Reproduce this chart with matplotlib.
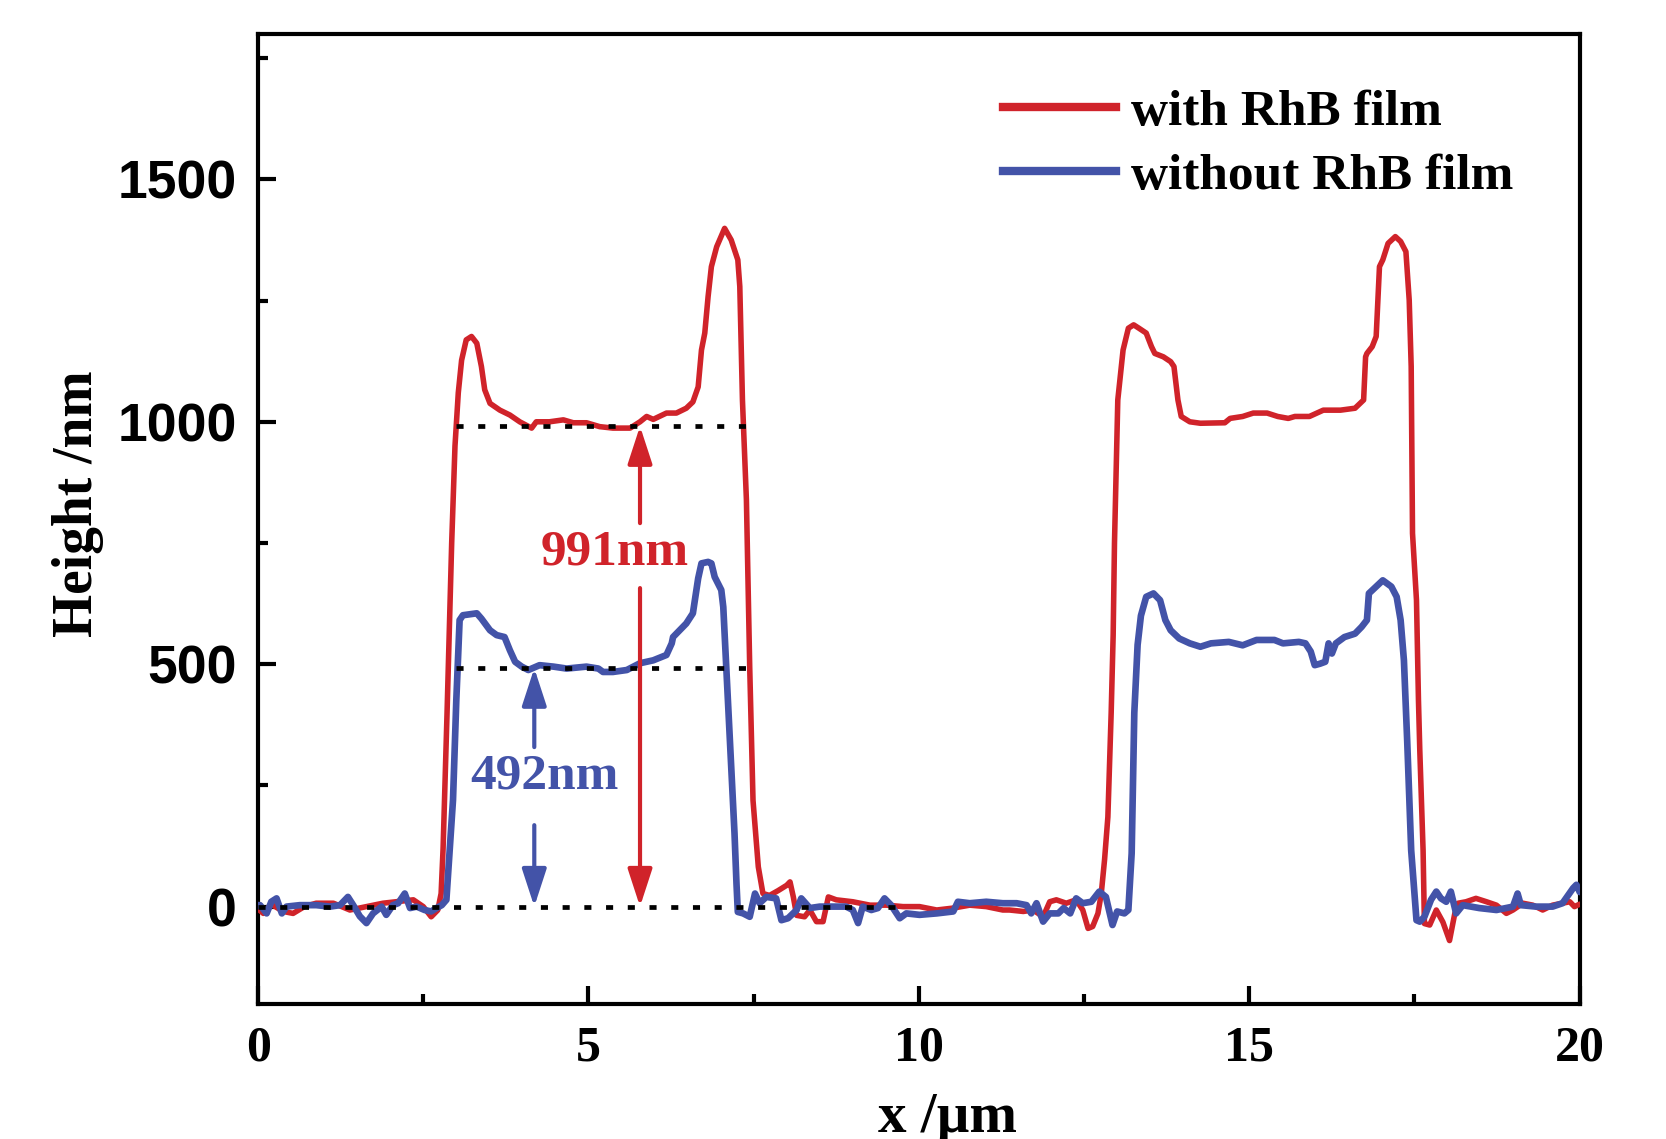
import matplotlib
matplotlib.use("Agg")
import matplotlib.pyplot as plt
from matplotlib.lines import Line2D
from matplotlib.ticker import MultipleLocator

# Height profiles across two stripes (x in µm, height in nm)
x_with = [0.00, 0.08, 0.20, 0.38, 0.53, 0.70, 0.88, 1.14, 1.39, 1.64, 1.89, 2.09, 2.35, 2.50,
          2.62, 2.72, 2.77, 2.80, 2.86, 2.93, 2.98, 3.03, 3.08, 3.15, 3.23, 3.31, 3.38, 3.43,
          3.51, 3.66, 3.81, 3.96, 4.14, 4.21, 4.41, 4.62, 4.77, 4.97, 5.17, 5.37, 5.63, 5.78,
          5.88, 5.98, 6.18, 6.33, 6.48, 6.58, 6.66, 6.71, 6.76, 6.81, 6.86, 6.94, 7.06, 7.16,
          7.26, 7.29, 7.33, 7.39, 7.44, 7.49, 7.57, 7.64, 7.74, 7.87, 8.00, 8.05, 8.10, 8.15,
          8.27, 8.35, 8.45, 8.55, 8.63, 8.75, 9.00, 9.26, 9.51, 9.76, 10.01, 10.27, 10.52,
          10.77, 11.02, 11.27, 11.37, 11.58, 11.73, 11.88, 11.98, 12.08, 12.23, 12.38, 12.48,
          12.56, 12.63, 12.71, 12.76, 12.81, 12.86, 12.91, 12.94, 12.96, 13.01, 13.09, 13.17,
          13.25, 13.33, 13.44, 13.52, 13.57, 13.70, 13.81, 13.86, 13.92, 13.97, 14.10, 14.26,
          14.63, 14.71, 14.90, 15.06, 15.27, 15.43, 15.59, 15.69, 15.91, 16.12, 16.38, 16.60,
          16.73, 16.76, 16.78, 16.86, 16.92, 16.97, 17.02, 17.10, 17.21, 17.29, 17.37, 17.42,
          17.45, 17.47, 17.53, 17.56, 17.58, 17.63, 17.65, 17.73, 17.83, 17.93, 18.03, 18.11,
          18.16, 18.28, 18.43, 18.59, 18.74, 18.89, 18.99, 19.14, 19.29, 19.44, 19.59, 19.74,
          19.85, 19.92, 20.00]
h_with = [-5, -14, 5, -10, -14, 0, 7, 7, -7, 0, 7, 10, 14, 0,
          -21, -7, 27, 120, 400, 750, 950, 1060, 1127, 1169, 1176, 1162, 1114, 1066,
          1038, 1024, 1014, 1000, 987, 1000, 1000, 1004, 998, 998, 990, 987, 987, 1000,
          1011, 1005, 1018, 1018, 1028, 1041, 1072, 1148, 1183, 1258, 1320, 1361, 1399, 1375,
          1334, 1279, 1045, 839, 494, 219, 82, 27, 23, 33, 44, 51, 20, -18,
          -21, -7, -31, -31, 20, 14, 10, 3, 3, 0, 0, -7, -3,
          3, 0, -7, -7, -10, -7, -21, 10, 14, 7, 14, -7,
          -45, -41, -14, 27, 97, 185, 400, 560, 750, 1045, 1148, 1193,
          1200, 1193, 1183, 1155, 1141, 1134, 1124, 1114, 1045, 1011, 1000, 997,
          998, 1007, 1011, 1018, 1018, 1011, 1007, 1011, 1011, 1024, 1024, 1028,
          1045, 1134, 1141, 1155, 1176, 1320, 1334, 1368, 1382, 1372, 1351, 1251,
          1114, 770, 632, 426, 323, 116, -35, -38, -7, -32, -70, -14,
          7, 10, 17, 10, 3, -14, -7, 7, 3, -7, 3, 7,
          10, 0, 5]

x_without = [0.00, 0.03, 0.13, 0.20, 0.28, 0.36, 0.43, 0.63, 0.88, 1.09, 1.24, 1.36, 1.44, 1.54,
             1.64, 1.74, 1.87, 1.94, 2.04, 2.12, 2.22, 2.30, 2.40, 2.52, 2.62, 2.70, 2.78, 2.85,
             2.95, 3.00, 3.05, 3.10, 3.31, 3.38, 3.51, 3.61, 3.73, 3.81, 3.89, 3.99, 4.09, 4.26,
             4.47, 4.67, 4.97, 5.15, 5.22, 5.37, 5.58, 5.78, 5.98, 6.18, 6.26, 6.28, 6.48, 6.58,
             6.61, 6.66, 6.71, 6.81, 6.86, 6.91, 7.01, 7.04, 7.06, 7.11, 7.16, 7.21, 7.24, 7.26,
             7.34, 7.44, 7.52, 7.59, 7.69, 7.84, 7.92, 8.02, 8.15, 8.22, 8.35, 8.50, 8.70, 8.90,
             9.00, 9.08, 9.15, 9.28, 9.38, 9.48, 9.58, 9.71, 9.81, 10.01, 10.27, 10.52, 10.59,
             10.77, 11.02, 11.27, 11.48, 11.63, 11.70, 11.78, 11.88, 11.98, 12.11, 12.19, 12.29,
             12.38, 12.48, 12.61, 12.73, 12.83, 12.93, 13.00, 13.11, 13.17, 13.22, 13.26, 13.31,
             13.36, 13.44, 13.55, 13.65, 13.73, 13.81, 13.94, 14.10, 14.26, 14.42, 14.69, 14.90,
             15.11, 15.38, 15.51, 15.75, 15.85, 15.93, 15.99, 16.07, 16.15, 16.20, 16.25, 16.31,
             16.44, 16.60, 16.70, 16.78, 16.81, 16.92, 17.02, 17.15, 17.23, 17.29, 17.34, 17.39,
             17.45, 17.53, 17.58, 17.65, 17.75, 17.83, 17.90, 17.98, 18.05, 18.13, 18.23, 18.48,
             18.74, 18.99, 19.06, 19.11, 19.34, 19.59, 19.74, 19.90, 19.95, 20.00]
h_without = [3, 3, -14, 10, 17, -14, 0, 3, 3, 0, 3, 20, 3, -20,
             -34, -14, 0, -17, 3, 7, 27, -3, 0, -7, -10, -3, 3, 14,
             220, 426, 591, 601, 605, 594, 570, 560, 556, 529, 505, 495, 488, 498,
             495, 491, 495, 491, 484, 484, 488, 502, 508, 519, 543, 556, 584, 605,
             632, 677, 708, 711, 708, 680, 653, 618, 563, 426, 288, 151, 47, -11,
             -14, -21, 27, 7, 20, 17, -28, -24, -7, 17, -3, 0, 0, 0,
             -7, -34, 0, -7, -3, 17, 3, -24, -14, -17, -14, -10, 10,
             7, 10, 7, 7, 3, -14, 7, -31, -14, -14, -3, -14,
             17, 7, 10, 31, 20, -38, -10, -14, -7, 110, 400, 540,
             600, 639, 646, 632, 591, 570, 553, 543, 536, 543, 546, 539,
             550, 550, 543, 546, 543, 526, 498, 501, 505, 543, 522, 543,
             556, 563, 577, 591, 646, 660, 673, 660, 639, 591, 508, 340,
             116, -28, -31, -21, 14, 31, 17, 10, 31, -14, 3, -3,
             -7, 0, 27, 3, 0, 0, 7, 38, 45, 30]

series_labels = ["with RhB film", "without RhB film"]
step_with = 991      # nm, measured step height with the film
step_without = 492   # nm, measured step height without the film
x_step_with = 5.78
x_step_without = 4.18
x_ticks = [0, 5, 10, 15, 20]
y_ticks = [0, 500, 1000, 1500]

RED = "#D0232A"
BLUE = "#4353A8"
SERIF = "Liberation Serif"
SANS = "Liberation Sans"

fig = plt.figure(figsize=(16.66, 11.39), dpi=100)
ax = fig.add_axes([0.1549, 0.1189, 0.7933, 0.8513])

ax.plot(x_with, h_with, color=RED, lw=4.0, solid_joinstyle="round",
        solid_capstyle="round", zorder=3)
ax.plot(x_without, h_without, color=BLUE, lw=4.8, solid_joinstyle="round",
        solid_capstyle="round", zorder=4)

# reference levels
dot = dict(color="black", lw=3.4, linestyle=(0, (1.5, 3.1)), zorder=5)
ax.plot([0, 9.7], [0, 0], **dot)
ax.plot([3.0, 7.42], [step_with, step_with], **dot)
ax.plot([3.0, 7.42], [step_without, step_without], **dot)

def step_arrow(x, y0, y1, color):
    ax.annotate("", xy=(x, y1), xytext=(x, y0),
                arrowprops=dict(arrowstyle="-|>,head_length=23,head_width=7.5",
                                mutation_scale=1, color=color, lw=3.0,
                                shrinkA=0, shrinkB=0), zorder=6)

step_arrow(x_step_with, 791, step_with, RED)
step_arrow(x_step_with, 657, 0, RED)
step_arrow(x_step_without, 329, step_without, BLUE)
step_arrow(x_step_without, 168, 0, BLUE)

ax.text(5.40, 730, f"{step_with}nm", color=RED, fontsize=37, fontweight="bold",
        family=SERIF, ha="center", va="center", zorder=7)
ax.text(4.33, 269, f"{step_without}nm", color=BLUE, fontsize=37, fontweight="bold",
        family=SERIF, ha="center", va="center", zorder=7)

ax.set_xlim(0, 20)
ax.set_ylim(-200, 1800)
ax.set_xticks(x_ticks)
ax.set_yticks(y_ticks)
ax.xaxis.set_minor_locator(MultipleLocator(2.5))
ax.yaxis.set_minor_locator(MultipleLocator(250))
ax.tick_params(which="both", direction="in", top=False, right=False, width=3)
ax.tick_params(which="major", length=13)
ax.tick_params(which="minor", length=7)
ax.tick_params(axis="y", pad=15)
ax.tick_params(axis="x", pad=16)
for s in ax.spines.values():
    s.set_linewidth(3)

ax.set_xticklabels([str(v) for v in x_ticks], fontsize=36, fontweight="bold", family=SERIF)
ax.set_yticklabels([str(v) for v in y_ticks], fontsize=38.5, fontweight="bold", family=SANS)

fig.text(0.0468, 0.5575, "Height /nm", rotation=90, ha="center", va="center",
         fontsize=40, fontweight="bold", family=SERIF)
fig.text(0.569, 0.006, "x /µm", ha="center", va="baseline",
         fontsize=41, fontweight="bold", family=SERIF)

handles = [Line2D([], [], color=RED, lw=6), Line2D([], [], color=BLUE, lw=6)]
ax.legend(handles, series_labels, loc="upper left", bbox_to_anchor=(0.5633, 0.943),
          frameon=False, borderpad=0, borderaxespad=0, handlelength=2.2,
          handletextpad=0.3, labelspacing=0.33,
          prop=dict(family=SERIF, weight="bold", size=37))

fig.savefig("out.png", dpi=100)
